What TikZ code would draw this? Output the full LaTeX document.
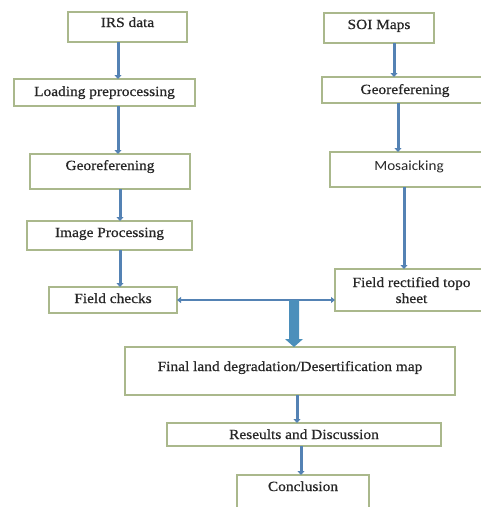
\documentclass[tikz,border=0pt]{standalone}
\usepackage{fontspec}
\setmainfont{Liberation Serif}[FakeStretch=1.1,FakeBold=0.6]
\newfontfamily\calib{Carlito}[FakeStretch=1.08]
\usetikzlibrary{arrows.meta,calc}
\definecolor{bordc}{RGB}{170,184,140}
\definecolor{arrc}{RGB}{84,130,180}
\begin{document}
\begin{tikzpicture}[x=1pt,y=-1pt,
  box/.style={draw=bordc,line width=1.1pt,fill=white,inner sep=0pt,outer sep=0pt,
    anchor=north west,text height=9pt,align=center,text=black!85,
    font=\fontsize{14}{16}\selectfont},
  arr/.style={draw=arrc,line width=3pt,-{Triangle[length=4pt,width=7pt]}},
  harr/.style={draw=arrc,line width=2pt,{Triangle[length=4pt,width=6pt]}-{Triangle[length=4pt,width=6pt]}}]
\useasboundingbox (0,0) rectangle (481,507);
\clip (0,0) rectangle (481,507);
% left column
\node[box,minimum width=119pt,minimum height=30pt,text depth=9pt] (irs) at (68,12) {IRS data};
\node[box,minimum width=181pt,minimum height=27pt,text depth=2pt] (load) at (14,79) {Loading preprocessing};
\node[box,minimum width=160pt,minimum height=35pt,text depth=12pt] (geoL) at (30,154) {Georeferening};
\node[box,minimum width=165pt,minimum height=29pt,text depth=6pt] (img) at (27,221) {Image Processing};
\node[box,minimum width=128pt,minimum height=26pt,text depth=3pt] (fc) at (49,287) {Field checks};
% right column
\node[box,minimum width=110pt,minimum height=30pt,text depth=7pt] (soi) at (324,13) {SOI Maps};
\node[box,minimum width=166pt,minimum height=26pt,text depth=1pt] (geoR) at (322,77) {Georeferening};
\node[box,minimum width=158pt,minimum height=35pt,text depth=8pt,font=\calib\fontsize{14}{16}\selectfont] (mos) at (330,152) {Mosaicking};
\node[box,minimum width=153pt,minimum height=42pt,text height=0pt,text depth=0pt] (fr) at (335,269)
  {\raisebox{3pt}[0pt][0pt]{\begin{tabular}[t]{@{}c@{}}Field rectified topo\\sheet\end{tabular}}};
% bottom
\node[box,minimum width=330pt,minimum height=48pt,text depth=9pt] (fin) at (125,347) {Final land degradation/Desertification map};
\node[box,minimum width=274pt,minimum height=23pt,text depth=0pt] (res) at (167,423) {Reseults and Discussion};
\node[box,minimum width=132pt,minimum height=40pt,text depth=17pt] (con) at (237,475) {Conclusion};
% connectors left
\draw[arr] ([xshift=-9.5pt]irs.south) -- ([xshift=-9.5pt]irs.south |- load.north);
\draw[arr] ([xshift=13.5pt]load.south) -- ([xshift=13.5pt]load.south |- geoL.north);
\draw[arr] ([xshift=10pt]geoL.south) -- ([xshift=10pt]geoL.south |- img.north);
\draw[arr] ([xshift=10.5pt]img.south) -- ([xshift=10.5pt]img.south |- fc.north);
% connectors right
\draw[arr] ([xshift=15pt]soi.south) -- ([xshift=15pt]soi.south |- geoR.north);
\draw[arr] ([xshift=-7pt]geoR.south) -- ([xshift=-7pt]geoR.south |- mos.north);
\draw[arr] ([xshift=-5pt]mos.south) -- ([xshift=-5pt]mos.south |- fr.north);
% horizontal double arrow
\draw[harr] (fc.east) -- (fc.east -| fr.west);
% block arrow down to final
\coordinate (tip) at ([xshift=4pt]fin.north);
\fill[arrc!90!cyan] ($(tip)+(-5,-47)$) -- ($(tip)+(5,-47)$) -- ($(tip)+(5,-8)$) -- ($(tip)+(9,-8)$)
  -- (tip) -- ($(tip)+(-9,-8)$) -- ($(tip)+(-5,-8)$) -- cycle;
% bottom connectors
\draw[arr] ([xshift=7pt]fin.south) -- ([xshift=7pt]fin.south |- res.north);
\draw[arr] ([xshift=-3pt]res.south) -- ([xshift=-3pt]res.south |- con.north);
\end{tikzpicture}
\end{document}
